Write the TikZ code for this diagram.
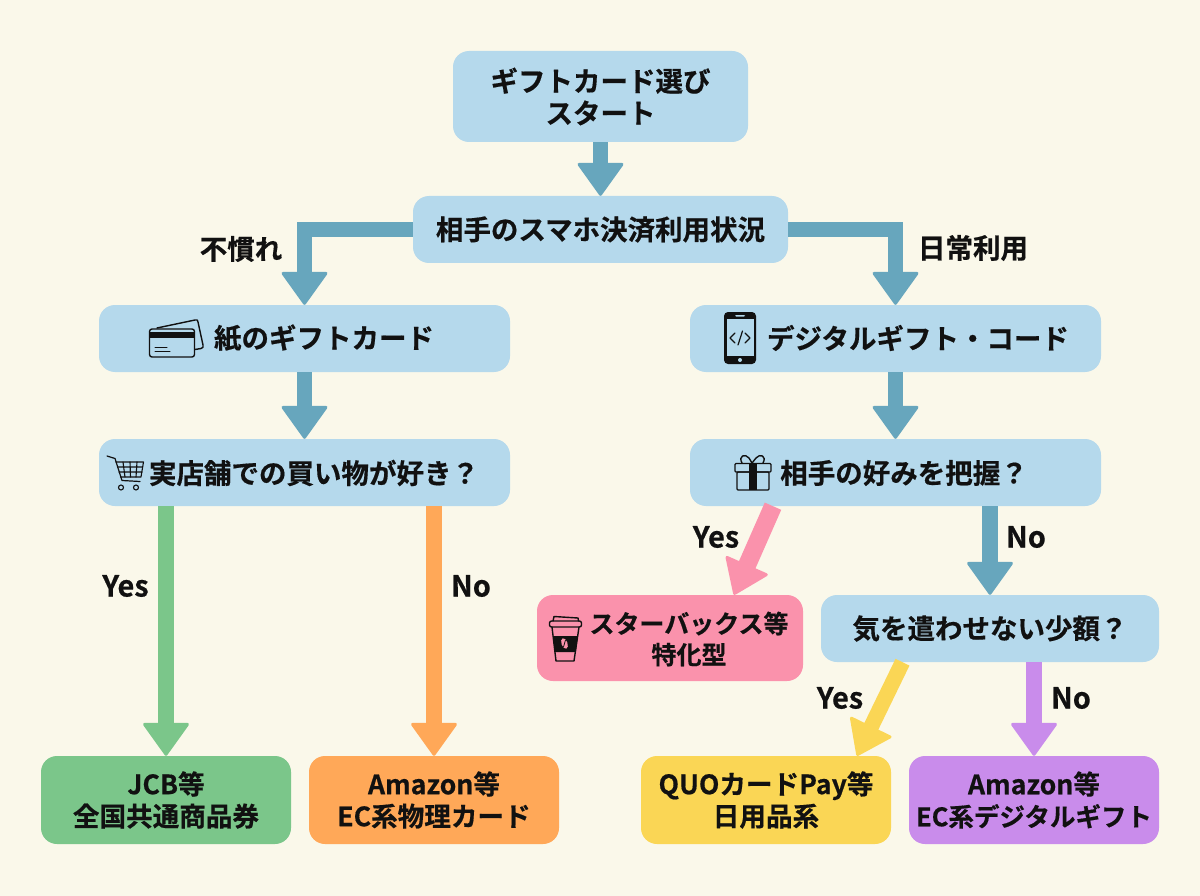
\documentclass[tikz,border=0pt]{standalone}
\usepackage{fontspec}
\setmainfont{Noto Sans CJK JP Bold}[FakeBold=0.5]
\usetikzlibrary{arrows.meta}
\definecolor{bgc}{HTML}{FAF8EA}
\definecolor{boxc}{HTML}{B5D9EC}
\definecolor{arrc}{HTML}{67A6BD}
\definecolor{greenc}{HTML}{7BC68A}
\definecolor{orangec}{HTML}{FFA858}
\definecolor{pinkc}{HTML}{FA92AC}
\definecolor{yellowc}{HTML}{FAD655}
\definecolor{purplec}{HTML}{C98CEB}
\definecolor{inkc}{HTML}{111111}
\tikzset{
  box/.style={fill=boxc,rounded corners=16pt,inner sep=0pt,align=center,text=inkc,font=\fontsize{27.5}{32}\selectfont},
  leaf/.style={box,font=\fontsize{26.6}{32}\selectfont},
  lbl/.style={inner sep=0pt,text=inkc,font=\fontsize{27.5}{32}\selectfont},
  ylbl/.style={inner sep=0pt,text=inkc,font=\fontsize{29}{32}\selectfont},
  flow/.style={draw=#1,line width=15.5pt,-{Triangle[length=34pt,width=48pt,line width=3pt,round,fill=#1,color=#1]}},
  icon/.style={draw=inkc,line width=1.4pt,line join=round,line cap=round}
}
\begin{document}
\begin{tikzpicture}[x=1pt,y=-1pt]
\useasboundingbox (0,0) rectangle (1200,896);
\fill[bgc] (0,0) rectangle (1200,896);
% boxes
\node[box,minimum width=295pt,minimum height=91pt] (start) at (600.5,96.5) {ギフトカード選び\\スタート};
\node[box,minimum width=375pt,minimum height=67pt] (usage) at (600.5,229.5) {相手のスマホ決済利用状況};
\node[box,minimum width=411pt,minimum height=67pt] (paper) at (304.5,338.5) {};
\node[box,minimum width=411pt,minimum height=67pt] (digital) at (895.5,338.5) {};
\node[box,minimum width=411pt,minimum height=67pt] (store) at (304.5,472.5) {};
\node[box,minimum width=411pt,minimum height=67pt] (pref) at (895.5,472.5) {};
\node[box,fill=pinkc,minimum width=266pt,minimum height=86pt] (star) at (670,638) {};
\node[box,minimum width=338pt,minimum height=67pt] (small) at (990,628.5) {気を遣わせない少額？};
\node[leaf,fill=greenc,minimum width=250pt,minimum height=88pt] (jcb) at (166,800) {JCB等\\全国共通商品券};
\node[leaf,fill=orangec,minimum width=250pt,minimum height=88pt] (amzp) at (434,800) {Amazon等\\EC系物理カード};
\node[leaf,fill=yellowc,minimum width=250pt,minimum height=88pt] (quo) at (766,800) {QUOカードPay等\\日用品系};
\node[leaf,fill=purplec,minimum width=250pt,minimum height=88pt] (amzd) at (1034,800) {Amazon等\\{\fontsize{25.5}{32}\selectfont EC系デジタルギフト}};
% box texts next to icons
\node[lbl] (paperT) at (324,338) {紙のギフトカード};
\node[lbl] (digitalT) at (918,338) {デジタルギフト・コード};
\node[lbl] (storeT) at (314,473) {実店舗での買い物が好き？};
\node[lbl] (prefT) at (904,473) {相手の好みを把握？};
\node[inner sep=0pt,align=center,text=inkc,font=\fontsize{25}{31}\selectfont] (starT) at (689,639) {スターバックス等\\特化型};
% connectors
\draw[flow=arrc] (start.south) -- (usage.north);
\draw[flow=arrc] (usage.west) -| (paper.north);
\draw[flow=arrc] (usage.east) -| (digital.north);
\draw[flow=arrc] (paper.south) -- (store.north);
\draw[flow=arrc] (digital.south) -- (pref.north);
\draw[flow=greenc] ([xshift=-138.5pt]store.south) -- (jcb.north);
\draw[flow=orangec] ([xshift=129.5pt]store.south) -- (amzp.north);
\draw[flow=pinkc,line width=18pt] ([xshift=-122.5pt]pref.south) -- ([xshift=64pt]star.north);
\draw[flow=arrc] ([xshift=94.5pt]pref.south) -- (small.north);
\draw[flow=yellowc] ([xshift=-87.5pt]small.south) -- ([xshift=91pt]quo.north);
\draw[flow=purplec] ([xshift=44pt]small.south) -- (amzd.north);
% edge labels
\node[lbl] (l1) at (241,249) {不慣れ};
\node[lbl] (l2) at (973,248) {日常利用};
\node[ylbl] (l3) at (125.5,586) {Yes};
\node[ylbl] (l4) at (471,586) {No};
\node[ylbl] (l5) at (716,537) {Yes};
\node[ylbl] (l6) at (1026,537) {No};
\node[ylbl] (l7) at (840,698) {Yes};
\node[ylbl] (l8) at (1071,698) {No};
% card icon
\draw[icon] (157,328) -- (195,320) .. controls (197,319.5) and (198,320) .. (198,322) -- (203,345) .. controls (203.5,347) and (203,348) .. (201,348.5) -- (195,349.5);
\draw[icon,rounded corners=2.5pt] (149.5,329) rectangle (194.5,357);
\fill[inkc] (149.5,332) rectangle (194.5,338);
\draw[icon,line width=1pt] (155,347) -- (167,347) (155,351.5) -- (170,351.5);
% phone icon
\fill[inkc,rounded corners=4pt] (724,312) rectangle (756,364);
\fill[boxc] (727,319) rectangle (754,356);
\fill[boxc,rounded corners=1pt] (735,315) rectangle (745,316.5);
\fill[boxc] (740,360) circle (2pt);
\draw[icon,line width=1.2pt] (735,333) -- (730,338) -- (735,343) (745,333) -- (750,338) -- (745,343) (742.5,331) -- (738,345);
% gift icon
\draw[icon] (742,463) .. controls (738,456) and (745,453) .. (749,458) -- (752,463) -- (756,458) .. controls (760,453) and (767,456) .. (763,463);
\draw[icon,rounded corners=1pt] (735,463.5) rectangle (771,472);
\draw[icon,rounded corners=1pt] (737,472) rectangle (769,490);
\fill[inkc] (749,463) rectangle (757,490);
% cart icon
\draw[icon,line width=1.2pt] (107,456) -- (115,458.5) -- (122,480.5) -- (140,481.5);
\draw[icon,line width=1.1pt] (116,462) -- (143.5,462) -- (141,477) -- (120.5,477);
\draw[icon,line width=1.1pt] (117.5,467) -- (142.5,467) (119,472) -- (142,472) (123,462) -- (125,477) (130,462) -- (130.5,477) (137,462) -- (136,477);
\draw[icon,line width=1.1pt] (121,487.5) circle (2.5pt) (136,487.5) circle (2.5pt);
% cup icon
\draw[icon] (552,627) -- (556,661) -- (574,661) -- (579,627);
\draw[icon,rounded corners=2pt] (549.5,621) rectangle (581.5,627);
\draw[icon] (553,621) -- (554,616.5) -- (578,618) -- (578.5,621);
\fill[inkc] (553.2,636) -- (555,652) -- (575.8,652) -- (577.8,636) -- cycle;
\fill[pinkc,rotate around={20:(564.5,643.5)}] (564.5,643.5) ellipse (3pt and 5.5pt);
\draw[inkc,line width=.8pt] (565.5,640) -- (563.5,647);
\end{tikzpicture}
\end{document}
